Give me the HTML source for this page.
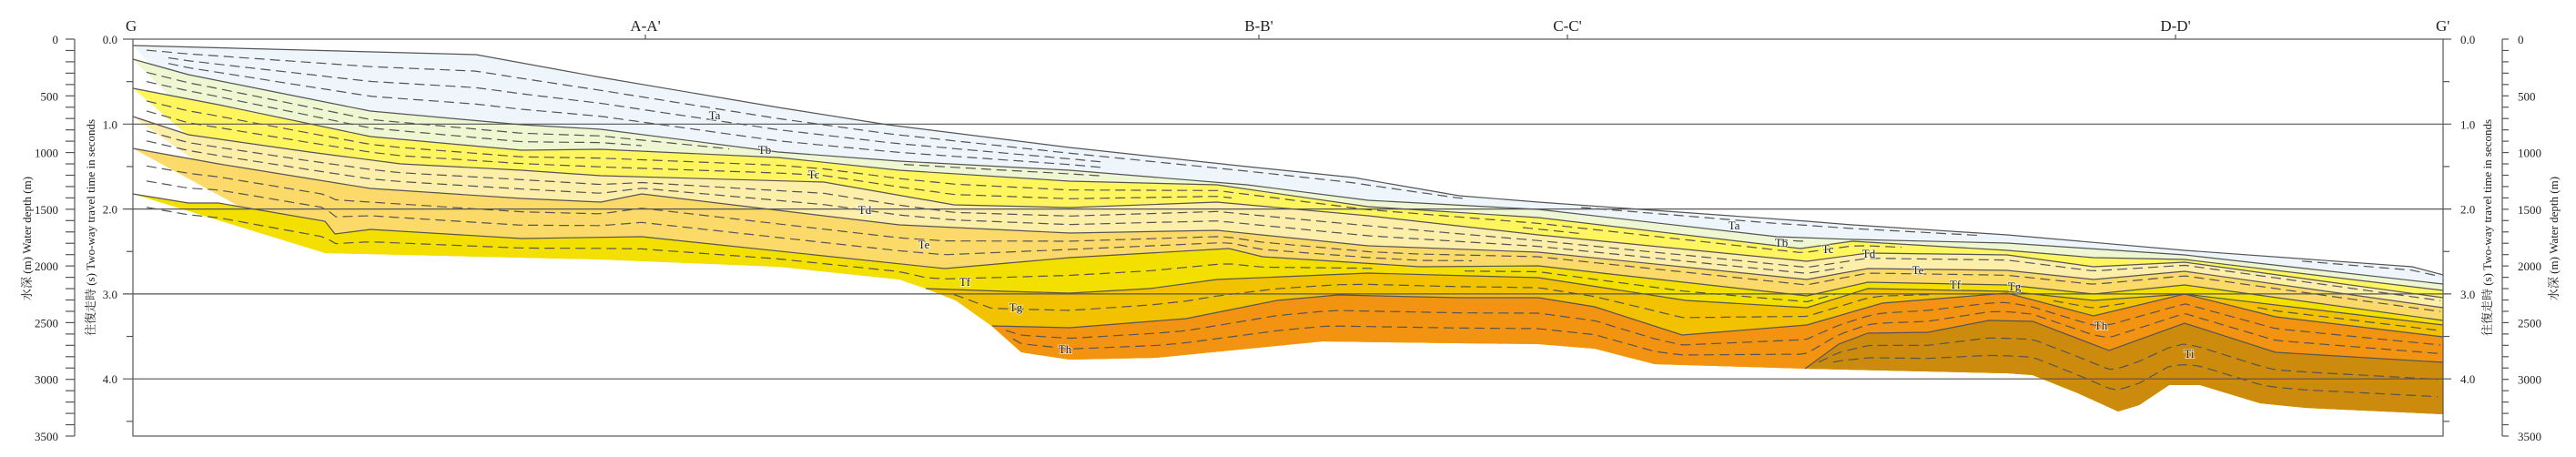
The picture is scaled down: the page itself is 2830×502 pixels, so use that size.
<!DOCTYPE html>
<html><head><meta charset="utf-8">
<style>
html,body{margin:0;padding:0;background:#fff;}
svg{display:block;font-family:"Liberation Serif","Noto Serif CJK SC",serif;}
</style></head>
<body>
<svg id="s" width="2830" height="502" viewBox="0 0 2830 502" xmlns="http://www.w3.org/2000/svg">
<g id="fills"></g>
<g id="lines" fill="none" stroke="#555" stroke-width="1.2"></g>
<g id="axes" stroke="#555" stroke-width="1.2" fill="none"></g>
<g id="txt" fill="#222" font-size="15"></g>
</svg>
<script>
const NS="http://www.w3.org/2000/svg";
function el(p,t,a,txt){const e=document.createElementNS(NS,t);for(const k in a)e.setAttribute(k,a[k]);if(txt!==undefined)e.textContent=txt;document.getElementById(p).appendChild(e);return e;}
const L=146,R=2684,T=43,B=479;
const bottom=[[146,237],[357,278],[660,285],[855,293],[988,307],[1017,317],[1050,330],[1088,357],[1122,387],[1175,395],[1270,393],[1453,375],[1603,377],[1690,378],[1752,383],[1818,400],[1985,405],[2205,410],[2233,412],[2283,432],[2327,452],[2350,445],[2383,423],[2417,423],[2483,443],[2533,448],[2684,455]];
const layers=[
{c:"#eef6fb",top:[[146,50],[523,60],[660,85],[855,118],[975,137],[1175,162],[1370,183],[1487,195],[1603,215],[1690,222],[1985,243],[2035,247],[2205,258],[2400,275],[2650,293],[2684,302]],n:3},
{c:"#eff6d2",top:[[146,65],[207,82],[307,102],[407,122],[573,137],[660,142],[855,167],[988,177],[1175,187],[1370,203],[1503,220],[1690,230],[1952,260],[2035,263],[2205,267],[2400,280],[2684,312]],n:2},
{c:"#fff55e",top:[[146,97],[240,115],[407,150],[573,165],[660,164],[855,173],[988,187],[1175,199],[1337,203],[1503,227],[1690,239],[1978,273],[2035,265],[2205,275],[2300,283],[2400,285],[2684,319]],n:2},
{c:"#fdeeaa",top:[[146,128],[207,148],[340,167],[440,180],[573,187],[660,193],[905,200],[1048,225],[1175,228],[1337,222],[1503,237],[1690,258],[1985,287],[2052,278],[2205,280],[2300,293],[2400,288],[2684,327]],n:2},
{c:"#fcda6a",top:[[146,163],[240,180],[407,207],[573,218],[660,222],[705,213],[988,247],[1175,256],[1337,253],[1503,270],[1690,277],[1985,307],[2052,295],[2205,297],[2300,307],[2400,298],[2684,338]],n:2},
{c:"#f3df00",top:[[146,213],[207,223],[240,223],[357,243],[368,257],[407,252],[573,262],[705,260],[1038,295],[1175,283],[1350,273],[1387,282],[1560,293],[1690,292],[1760,300],[1985,325],[2052,310],[2205,313],[2300,323],[2400,313],[2684,352]],n:1},
{c:"#f2c200",top:[[1017,317],[1105,320],[1175,322],[1263,317],[1337,307],[1503,300],[1690,305],[1852,330],[1985,338],[2052,317],[2205,320],[2300,330],[2400,323],[2684,357]],n:1},
{c:"#f29412",top:[[1090,358],[1175,360],[1303,350],[1403,330],[1470,324],[1603,327],[1690,327],[1752,337],[1848,368],[1985,357],[2068,333],[2205,322],[2300,347],[2400,323],[2500,348],[2684,370]],n:2},
{c:"#cc8b0c",top:[[1983,405],[2020,378],[2052,366],[2118,365],[2185,352],[2233,353],[2317,385],[2400,355],[2500,387],[2684,398]],n:2}
];
function ev(pl,x){if(x<pl[0][0]||x>pl[pl.length-1][0])return null;for(let i=1;i<pl.length;i++){if(x<=pl[i][0]){const a=pl[i-1],b=pl[i];const t=(x-a[0])/((b[0]-a[0])||1);return a[1]+t*(b[1]-a[1]);}}return pl[pl.length-1][1];}
function pts(a){return a.map(p=>p[0]+","+p[1]).join(" ");}
layers.forEach(ly=>{
  const x0=ly.top[0][0];
  const bot=bottom.filter(p=>p[0]>x0).reverse();
  el("fills","polygon",{points:pts(ly.top.concat(bot)),fill:ly.c});
});
layers.forEach(ly=>{el("lines","polyline",{points:pts(ly.top)});});
layers.forEach((ly,i)=>{
  const x0=ly.top[0][0];
  for(let k=1;k<=ly.n;k++){
    const f=k/(ly.n+1);let p=[];
    const flush=()=>{if(p.length>1)el("lines","polyline",{points:pts(p),"stroke-dasharray":"11 6"});p=[];};
    for(let x=x0+15;x<=R-2;x+=8){
      const t=ev(ly.top,x);let b=ev(bottom,x);
      for(let j=i+1;j<layers.length;j++){const v=ev(layers[j].top,x);if(v!==null&&v<b)b=v;}
      const need = k==1 ? 10 : 6*(ly.n+1);
      if(t===null||b-t<need){flush();continue;}
      p.push([x,(t+(b-t)*f).toFixed(1)]);
    }
    flush();
  }
});
el("axes","rect",{x:L,y:T,width:R-L,height:B-T});
const ys=s=>T+s*93.3;
for(let s=1;s<=4;s++){el("axes","line",{x1:135,x2:R+9,y1:ys(s),y2:ys(s)});}
el("axes","line",{x1:135,x2:L,y1:T,y2:T});el("axes","line",{x1:R,x2:R+9,y1:T,y2:T});
for(let s=0.5;s<4.7;s+=1){el("axes","line",{x1:139,x2:L,y1:ys(s),y2:ys(s)});el("axes","line",{x1:R,x2:R+7,y1:ys(s),y2:ys(s)});}
for(let s=0;s<=4;s++){
  el("txt","text",{x:129,y:ys(s)+5,"text-anchor":"end","font-size":"13"},s.toFixed(1));
  el("txt","text",{x:2703,y:ys(s)+5,"font-size":"13"},s.toFixed(1));
}
el("axes","line",{x1:82,x2:82,y1:T,y2:B});el("axes","line",{x1:2749,x2:2749,y1:T,y2:B});
for(let m=0;m<=3500;m+=100){const y=T+m*(B-T)/3500;
  el("axes","line",{x1:72,x2:82,y1:y,y2:y});el("axes","line",{x1:2749,x2:2756,y1:y,y2:y});
  if(m%500==0){el("txt","text",{x:64,y:y+5,"text-anchor":"end","font-size":"13"},m);el("txt","text",{x:2766,y:y+5,"font-size":"13"},m);}
}
[[709,"A-A'"],[1383,"B-B'"],[1722,"C-C'"],[2390,"D-D'"]].forEach(a=>{el("axes","line",{x1:a[0],x2:a[0],y1:T-5,y2:T});el("txt","text",{x:a[0],y:34,"text-anchor":"middle","font-size":"17"},a[1]);});
el("txt","text",{x:138,y:34,"font-size":"17"},"G");
el("txt","text",{x:2676,y:34,"font-size":"17"},"G'");
function vt(x,y,s){el("txt","text",{x:x,y:y,"text-anchor":"middle","font-size":"13",transform:`rotate(-90 ${x} ${y})`},s);}
vt(34,262,"水深 (m)   Water depth (m)");
vt(104,250,"往復走時 (s)  Two-way travel time in seconds");
vt(2737,250,"往復走時 (s) Two-way travel time in seconds");
vt(2810,262,"水深 (m)   Water depth (m)");
[["Ta",785,126],["Tb",840,164],["Tc",894,191],["Td",950,230],["Te",1015,268],["Tf",1060,309],["Tg",1116,337],["Th",1170,383],
 ["Ta",1905,247],["Tb",1957,266],["Tc",2008,273],["Td",2053,278],["Te",2107,296],["Tf",2148,312],["Tg",2213,314],["Th",2308,357],["Ti",2405,388]].forEach(a=>{
 el("txt","text",{x:a[1],y:a[2]+5,"text-anchor":"middle","font-size":"13",stroke:"rgba(255,255,255,0.6)","stroke-width":"2","paint-order":"stroke"},a[0]);
});
</script>
</body></html>
